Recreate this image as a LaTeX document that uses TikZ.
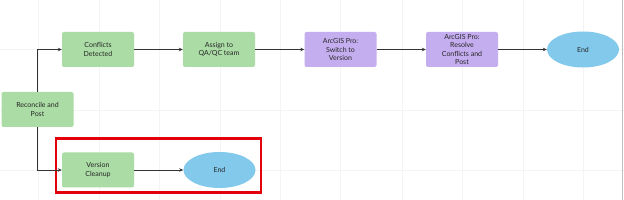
\documentclass[tikz,border=0pt]{standalone}
\usepackage{fontspec}
\setmainfont{Lato}
\usetikzlibrary{shapes.geometric,arrows.meta}
\definecolor{boxgreen}{HTML}{ABDCA5}
\definecolor{boxpurple}{HTML}{C4AEF0}
\definecolor{endblue}{HTML}{82C9EC}
\definecolor{gridc}{HTML}{F4F4F4}
\definecolor{redc}{HTML}{E3000B}
\tikzset{
  stepbox/.style={draw=none, rounded corners=2pt, minimum width=72pt, minimum height=35pt, align=center, inner sep=1pt, font=\fontsize{7}{8.3}\selectfont, text=black!85},
  gbox/.style={stepbox, fill=boxgreen},
  pbox/.style={stepbox, fill=boxpurple},
  endnode/.style={ellipse, fill=endblue, minimum width=72pt, minimum height=36pt, inner sep=0pt, font=\fontsize{7}{8.3}\selectfont, text=black!85},
  conn/.style={draw=black!80, line width=0.7pt, -{Stealth[length=4pt,width=3.5pt]}}
}
\begin{document}
\begin{tikzpicture}[x=1pt,y=-1pt]
\useasboundingbox (0,0) rectangle (624,200);
\fill[white] (0,0) rectangle (624,200);
\foreach \x in {38,99,159,220,280,340,402,462,523,583} \draw[gridc, line width=0.5pt] (\x,0) -- (\x,200);
\foreach \y in {49,110,170} \draw[gridc, line width=0.5pt] (0,\y) -- (624,\y);
\draw[black!25, line width=0.5pt] (622,0) -- (622,200);
\node[gbox] (rec) at (37.5,109.5) {Reconcile and\\Post};
\node[gbox] (cd) at (98,49.5) {Conflicts\\Detected};
\node[gbox] (qa) at (219,49.5) {Assign to\\QA/QC team};
\node[pbox] (sw) at (340.5,49.5) {ArcGIS Pro:\\Switch to\\Version};
\node[pbox] (rs) at (462,49.5) {ArcGIS Pro:\\Resolve\\Conflicts and\\Post};
\node[endnode] (e1) at (583,49.5) {End};
\node[gbox] (vc) at (98,170) {Version\\Cleanup};
\node[endnode] (e2) at (219.5,170) {End};
\draw[redc, line width=2.6pt] (56,138.5) rectangle (261,192.5);
\draw[conn] (rec.north) |- (cd.west);
\draw[conn] (rec.south) |- (vc.west);
\draw[conn] (cd) -- (qa);
\draw[conn] (qa) -- (sw);
\draw[conn] (sw) -- (rs);
\draw[conn] (rs) -- (e1);
\draw[conn] (vc) -- (e2);
\end{tikzpicture}
\end{document}
